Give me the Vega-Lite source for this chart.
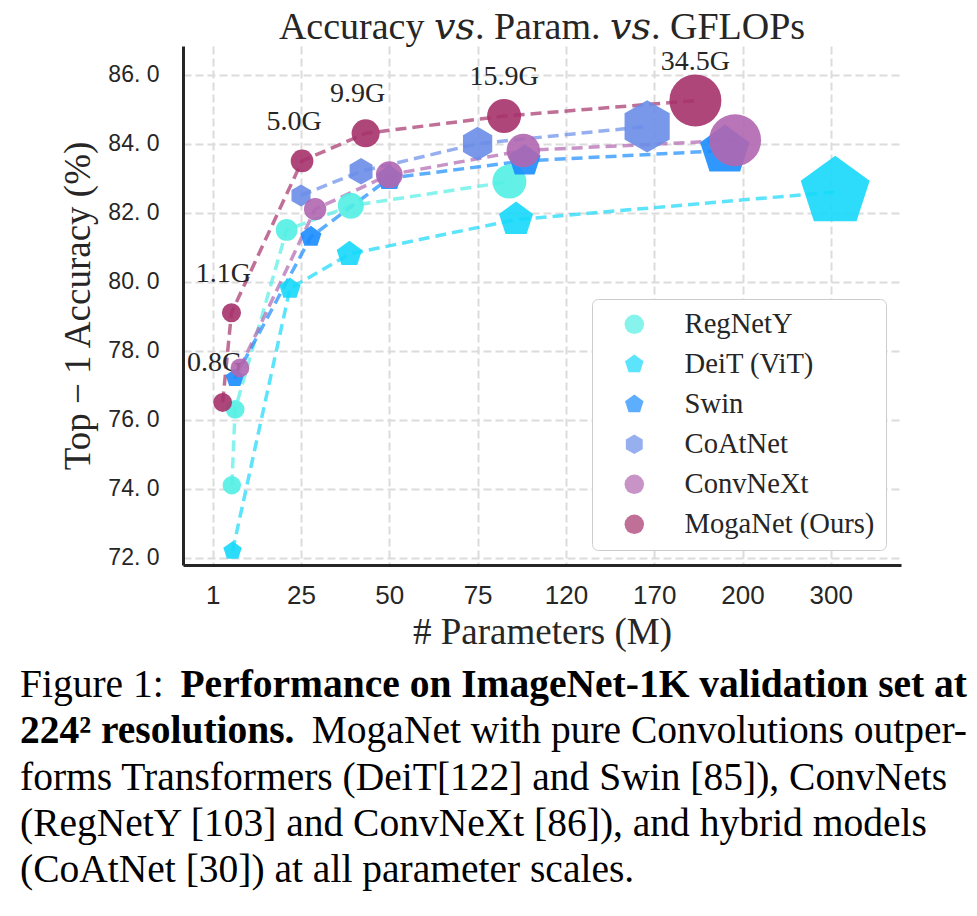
{
  "$schema": "https://vega.github.io/schema/vega-lite/v6.json",
  "autosize": "none",
  "width": 718,
  "height": 519,
  "padding": {"left": 183, "top": 46, "right": 76, "bottom": 351},
  "background": "white",
  "config": {
    "view": {"stroke": null},
    "axis": {
      "domainColor": "#262626", "domainWidth": 3, "ticks": false,
      "gridColor": "#dcdcdc", "gridDash": [8, 4], "gridWidth": 2,
      "labelColor": "#262626", "labelFont": "Liberation Sans",
      "titleColor": "#262626", "titleFont": "Liberation Serif", "titleFontWeight": "normal",
      "labelFlush": false, "labelOverlap": false
    },
    "legend": {
      "orient": "bottom-right", "offset": 15,
      "labelFont": "Liberation Serif", "labelFontSize": 28.6, "labelColor": "#262626", "labelLimit": 400,
      "symbolSize": 380, "symbolOffset": 17, "labelOffset": 36, "rowPadding": 11,
      "padding": 11, "strokeColor": "#cccccc", "fillColor": "#ffffff", "cornerRadius": 6,
      "symbolStrokeWidth": 0
    }
  },
  "title": {
    "text": "Accuracy 𝑣𝑠. Param. 𝑣𝑠. GFLOPs",
    "font": "Liberation Serif, DejaVu Serif", "fontSize": 38, "fontWeight": "normal", "color": "#262626",
    "anchor": "middle", "frame": "group", "offset": 14, "dy": 45, "baseline": "alphabetic"
  },
  "datasets": {
    "models": [
      {"model": "RegNetY", "params": 6.2, "acc": 74.1, "gflops": 0.4},
      {"model": "RegNetY", "params": 7.1, "acc": 76.3, "gflops": 0.8},
      {"model": "RegNetY", "params": 21.1, "acc": 81.5, "gflops": 4.0},
      {"model": "RegNetY", "params": 39.1, "acc": 82.2, "gflops": 8.0},
      {"model": "RegNetY", "params": 91.2, "acc": 82.9, "gflops": 15.9},
      {"model": "DeiT (ViT)", "params": 6.4, "acc": 72.2, "gflops": 1.3},
      {"model": "DeiT (ViT)", "params": 22.0, "acc": 79.8, "gflops": 4.6},
      {"model": "DeiT (ViT)", "params": 38.7, "acc": 80.8, "gflops": 8.6},
      {"model": "DeiT (ViT)", "params": 94.6, "acc": 81.8, "gflops": 17.5},
      {"model": "DeiT (ViT)", "params": 305, "acc": 82.6, "gflops": 61.6},
      {"model": "Swin", "params": 7.0, "acc": 77.2, "gflops": 1.0},
      {"model": "Swin", "params": 27.8, "acc": 81.3, "gflops": 4.5},
      {"model": "Swin", "params": 50, "acc": 83.0, "gflops": 8.7},
      {"model": "Swin", "params": 99, "acc": 83.5, "gflops": 15.4},
      {"model": "Swin", "params": 194, "acc": 83.8, "gflops": 34.5},
      {"model": "CoAtNet", "params": 25, "acc": 82.5, "gflops": 4.2},
      {"model": "CoAtNet", "params": 42, "acc": 83.2, "gflops": 8.4},
      {"model": "CoAtNet", "params": 75, "acc": 84.0, "gflops": 15.7},
      {"model": "CoAtNet", "params": 166, "acc": 84.5, "gflops": 34.7},
      {"model": "ConvNeXt", "params": 8.4, "acc": 77.5, "gflops": 0.8},
      {"model": "ConvNeXt", "params": 29, "acc": 82.1, "gflops": 4.5},
      {"model": "ConvNeXt", "params": 50, "acc": 83.1, "gflops": 8.7},
      {"model": "ConvNeXt", "params": 98.3, "acc": 83.8, "gflops": 15.4},
      {"model": "ConvNeXt", "params": 197.5, "acc": 84.1, "gflops": 34.4},
      {"model": "MogaNet (Ours)", "params": 3.7, "acc": 76.5, "gflops": 0.8},
      {"model": "MogaNet (Ours)", "params": 6.1, "acc": 79.1, "gflops": 1.1},
      {"model": "MogaNet (Ours)", "params": 25.3, "acc": 83.5, "gflops": 5.0},
      {"model": "MogaNet (Ours)", "params": 43.3, "acc": 84.3, "gflops": 9.9},
      {"model": "MogaNet (Ours)", "params": 88.5, "acc": 84.8, "gflops": 15.9},
      {"model": "MogaNet (Ours)", "params": 184, "acc": 85.25, "gflops": 34.5}
    ],
    "caption": [
      {"line": 1, "part": "head", "kind": "plain", "text": "Figure 1:"},
      {"line": 1, "part": "tail", "kind": "bold", "text": "Performance on ImageNet-1K validation set at"},
      {"line": 2, "part": "head", "kind": "bold", "text": "224² resolutions."},
      {"line": 2, "part": "tail", "kind": "plain", "text": "MogaNet with pure Convolutions outper-"},
      {"line": 3, "part": "head", "kind": "plain", "text": "forms Transformers (DeiT[122] and Swin [85]), ConvNets"},
      {"line": 4, "part": "head", "kind": "plain", "text": "(RegNetY [103] and ConvNeXt [86]), and hybrid models"},
      {"line": 5, "part": "head", "kind": "plain", "text": "(CoAtNet [30]) at all parameter scales."}
    ]
  },
  "layer": [
    {
      "data": {"name": "models"},
      "encoding": {
        "x": {
          "field": "params", "type": "quantitative",
          "scale": {
            "domain": [-7.07, 1, 25, 50, 75, 120, 170, 200, 300, 379.5],
            "range": [0, 29.7, 118, 206.3, 294.6, 382.9, 471.2, 559.5, 647.8, 718],
            "nice": false, "zero": false
          },
          "axis": {
            "title": "# Parameters (M)", "titleFontSize": 37, "titlePadding": 6,
            "labelFontSize": 26, "labelPadding": 17,
            "values": [1, 25, 50, 75, 120, 170, 200, 300]
          }
        },
        "y": {
          "field": "acc", "type": "quantitative",
          "scale": {"domain": [71.79, 86.83], "nice": false, "zero": false},
          "axis": {
            "title": "Top − 1 Accuracy (%)", "titleFontSize": 37, "titlePadding": 10,
            "labelFontSize": 23, "labelPadding": 24,
            "values": [72, 74, 76, 78, 80, 82, 84, 86],
            "labelExpr": "replace(format(datum.value, '.1f'), '.', '. ')"
          }
        },
        "color": {
          "field": "model", "type": "nominal", "title": null,
          "scale": {
            "domain": ["RegNetY", "DeiT (ViT)", "Swin", "CoAtNet", "ConvNeXt", "MogaNet (Ours)"],
            "range": ["#52f0e4", "#15d8fa", "#1a8cff", "#6a8de8", "#b066b0", "#a5326a"]
          }
        }
      },
      "layer": [
        {
          "mark": {"type": "line", "strokeDash": [11, 6], "strokeWidth": 3.5, "opacity": 0.7}
        },
        {
          "transform": [{"filter": "datum.model === 'MogaNet (Ours)'"}],
          "mark": {
            "type": "text", "font": "Liberation Serif", "fontSize": 28, "baseline": "alphabetic",
            "align": "center", "dy": -31,
            "dx": {"expr": "datum.gflops < 12 ? -8 : 0"},
            "text": {"expr": "format(datum.gflops, '.1f') + 'G'"}
          },
          "encoding": {"color": {"value": "#262626"}}
        },
        {
          "mark": {"type": "point", "filled": true, "opacity": 0.9, "strokeWidth": 0},
          "encoding": {
            "shape": {
              "field": "model", "type": "nominal", "title": null,
              "scale": {
                "domain": ["RegNetY", "DeiT (ViT)", "Swin", "CoAtNet", "ConvNeXt", "MogaNet (Ours)"],
                "range": [
                  "circle",
                  "M0,-1L0.951,-0.309L0.588,0.809L-0.588,0.809L-0.951,-0.309Z",
                  "M0,-1L0.951,-0.309L0.588,0.809L-0.588,0.809L-0.951,-0.309Z",
                  "M0,-1L0.866,-0.5L0.866,0.5L0,1L-0.866,0.5L-0.866,-0.5Z",
                  "circle",
                  "circle"
                ]
              }
            },
            "size": {
              "field": "gflops", "type": "quantitative", "legend": null,
              "scale": {
                "domain": [0, 5, 9.9, 15.9, 34.5, 61.6],
                "range": [324, 515, 784, 1156, 2704, 5256],
                "zero": false, "nice": false
              }
            }
          }
        }
      ]
    },
    {
      "data": {"name": "caption"},
      "layer": [
        {
          "transform": [{"filter": "datum.part === 'head'"}],
          "mark": {
            "type": "text", "font": "Liberation Serif", "fontSize": 39.5, "align": "left", "baseline": "alphabetic",
            "color": "#000000",
            "fontWeight": {"expr": "datum.kind === 'bold' ? 'bold' : 'normal'"}
          },
          "encoding": {
            "x": {"datum": 0, "type": "quantitative", "scale": {"domain": [0, 1], "range": [-163, 784]}, "axis": null},
            "y": {"field": "line", "type": "quantitative", "scale": {"domain": [1, 5], "range": [651, 836]}, "axis": null},
            "text": {"field": "text"}
          }
        },
        {
          "transform": [{"filter": "datum.part === 'tail'"}],
          "mark": {
            "type": "text", "font": "Liberation Serif", "fontSize": 39.5, "align": "right", "baseline": "alphabetic",
            "color": "#000000",
            "fontWeight": {"expr": "datum.kind === 'bold' ? 'bold' : 'normal'"}
          },
          "encoding": {
            "x": {"datum": 1, "type": "quantitative", "scale": {"domain": [0, 1], "range": [-163, 784]}, "axis": null},
            "y": {"field": "line", "type": "quantitative", "scale": {"domain": [1, 5], "range": [651, 836]}, "axis": null},
            "text": {"field": "text"}
          }
        }
      ]
    }
  ],
  "resolve": {"scale": {"x": "independent", "y": "independent"}}
}
